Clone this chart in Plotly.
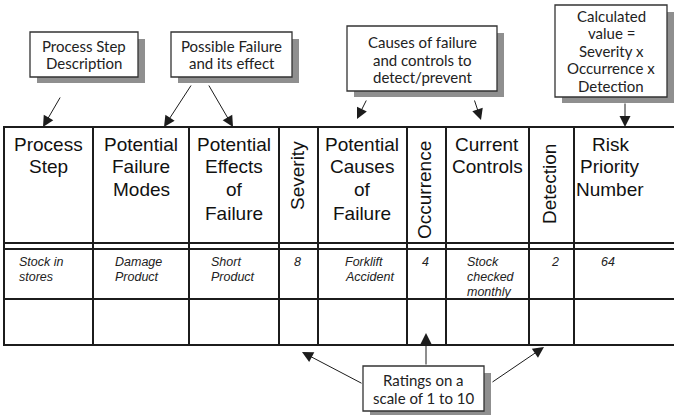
import plotly.graph_objects as go

# ---------------- data ----------------
headers = [
    ["Process", "Step"],
    ["Potential", "Failure", "Modes"],
    ["Potential", "Effects", "of", "Failure"],
    ["Severity"],
    ["Potential", "Causes", "of", "Failure"],
    ["Occurrence"],
    ["Current", "Controls"],
    ["Detection"],
    ["Risk", "Priority", "Number"],
]
rotated = [False, False, False, True, False, True, False, True, False]
row1 = [
    ["Stock in", "stores"],
    ["Damage", "Product"],
    ["Short", "Product"],
    ["8"],
    ["Forklift", "Accident"],
    ["4"],
    ["Stock", "checked", "monthly"],
    ["2"],
    ["64"],
]
callouts = [
    ["Process Step", "Description"],
    ["Possible Failure", "and its effect"],
    ["Causes of failure", "and controls to", "detect/prevent"],
    ["Calculated", "value =", "Severity x", "Occurrence x", "Detection"],
    ["Ratings on a", "scale of 1 to 10"],
]

# ---------------- layout geometry ----------------
W, H = 674, 415
col_edges = [4, 93, 189, 279, 318, 407, 446, 529, 574]
right_edge = 674
hlines = [127, 243, 249, 299, 345]
header_cx = [48, 141, 234, 297, 362, 424, 487, 549, 610]
header_line_y = [144, 166.5, 189.5, 213]
rot_cy = {3: 176, 5: 190, 7: 184}
body_x = [17, 113, 209, 292, 343, 420, 465, 549, 599]
body_line_y = [262, 277, 292]

boxes = [(30, 32, 138, 77), (171, 32, 292, 77), (347, 26, 497, 91),
         (555, 5, 667, 97), (363, 366, 484, 411)]
box_line_y = [[46, 63], [46, 63], [42, 59.5, 77], [16, 33, 50.5, 68, 86], [380, 398]]

arrows = [  # tail(x,y) -> head(x,y)
    ((61, 96), (43, 127)),
    ((192, 84), (164, 127)),
    ((208, 84), (233, 127)),
    ((367, 99), (357, 119)),
    ((474, 99), (481, 120)),
    ((625, 102), (625, 127)),
    ((363, 384), (302, 352)),
    ((426, 366), (426, 333)),
    ((491, 383), (544, 347)),
]

LINE = "#1c1c1c"
HFONT = "Liberation Sans, Arial, sans-serif"
CFONT = "Lato, Open Sans, sans-serif"

fig = go.Figure()
shapes = []
annotations = []

# table lines
for y in hlines:
    shapes.append(dict(type="line", x0=col_edges[0] - 1, x1=right_edge, y0=y, y1=y,
                       line=dict(color=LINE, width=2)))
for x in col_edges:
    shapes.append(dict(type="line", x0=x, x1=x, y0=hlines[0], y1=hlines[-1],
                       line=dict(color=LINE, width=2)))

# headers
for i, lines in enumerate(headers):
    if rotated[i]:
        annotations.append(dict(x=header_cx[i], y=rot_cy[i], text=lines[0], textangle=-90,
                                showarrow=False, xanchor="center", yanchor="middle",
                                font=dict(family=HFONT, size=19, color="#111")))
    else:
        for j, t in enumerate(lines):
            annotations.append(dict(x=header_cx[i], y=header_line_y[j], text=t,
                                    showarrow=False, xanchor="center", yanchor="middle",
                                    font=dict(family=HFONT, size=19, color="#111")))

# body row
for i, lines in enumerate(row1):
    for j, t in enumerate(lines):
        annotations.append(dict(x=body_x[i], y=body_line_y[j], text="<i>%s</i>" % t,
                                showarrow=False, xanchor="left", yanchor="middle",
                                font=dict(family=HFONT, size=12.5, color="#222")))

# callout boxes with shadow
for (x0, y0, x1, y1), lines, ys in zip(boxes, callouts, box_line_y):
    shapes.append(dict(type="rect", x0=x0 + 7, y0=y0 + 7, x1=x1 + 7, y1=y1 + 6,
                       fillcolor="#8f8f8f", line=dict(width=0)))
    shapes.append(dict(type="rect", x0=x0, y0=y0, x1=x1, y1=y1,
                       fillcolor="white", line=dict(color="#333", width=1.3)))
    cx = (x0 + x1) / 2
    for t, y in zip(lines, ys):
        annotations.append(dict(x=cx, y=y, text=t, showarrow=False,
                                xanchor="center", yanchor="middle",
                                font=dict(family=CFONT, size=15, color="#222")))

# arrows
for (tx, ty), (hx, hy) in arrows:
    annotations.append(dict(x=hx, y=hy, ax=tx, ay=ty, xref="x", yref="y",
                            axref="x", ayref="y", text="", showarrow=True,
                            arrowhead=2, arrowsize=2.2, arrowwidth=1,
                            arrowcolor="#1c1c1c", standoff=0, startstandoff=0))

fig.update_layout(
    width=W, height=H, margin=dict(l=0, r=0, t=0, b=0),
    paper_bgcolor="white", plot_bgcolor="white",
    xaxis=dict(range=[0, W], visible=False, fixedrange=True),
    yaxis=dict(range=[H, 0], visible=False, fixedrange=True),
    shapes=shapes, annotations=annotations, showlegend=False,
)
fig.write_html(
    "out.html",
    config={"displayModeBar": False},
    post_script="document.body.style.margin='0px';document.body.style.overflow='hidden';",
)
